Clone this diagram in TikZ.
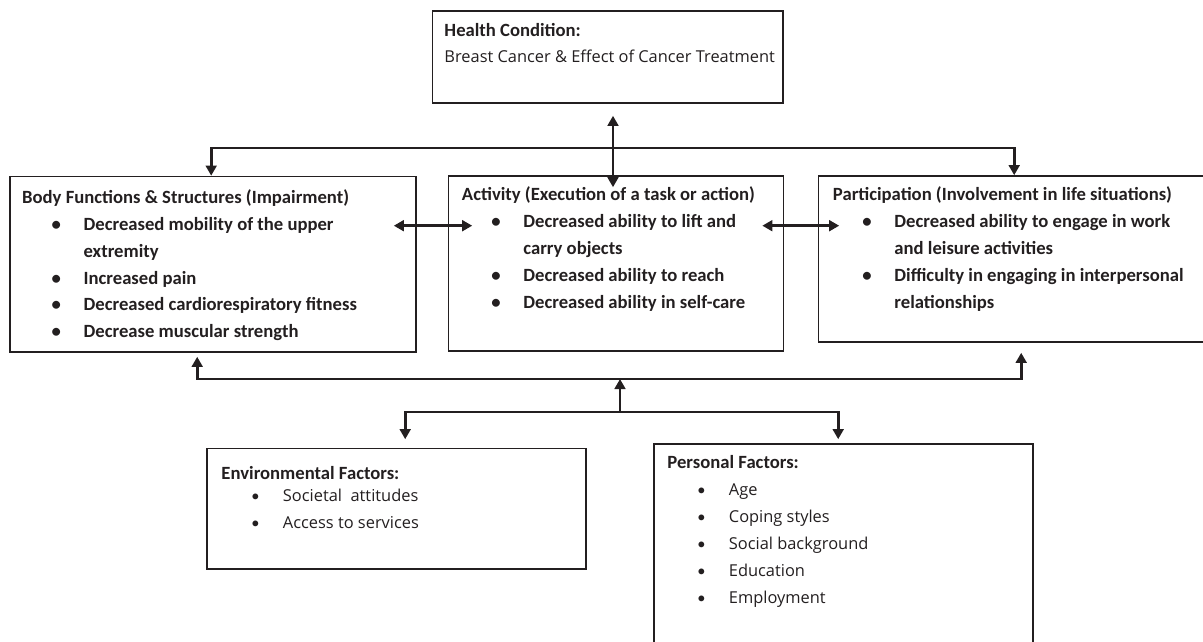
\documentclass[tikz,border=0pt]{standalone}
\usepackage{fontspec}
\setmainfont{Carlito}
\newfontfamily\segoe{Open Sans}
\usetikzlibrary{arrows.meta, calc, fit}
\definecolor{inkgray}{RGB}{35, 31, 32}
\newcommand{\reg}{\segoe\fontsize{12.3}{20.3}\selectfont}
\newcommand{\bitem}[1]{\hspace*{25.5pt}\makebox[0pt]{\rmfamily\textbullet}\hspace*{20.6pt}#1}
\newcommand{\bwrap}[1]{\hspace*{46.1pt}#1}

\begin{document}
\begin{tikzpicture}[x=0.75pt, y=-0.75pt, font=\fontsize{14}{20.2}\selectfont,
  box/.style={draw=inkgray, line width=1.2pt, inner sep=0pt},
  txt/.style={anchor=base west, inner sep=0pt, text=inkgray},
  conn/.style={draw=inkgray, line width=2pt, -{Triangle[length=7.5pt, width=8pt]}},
  dconn/.style={conn, {Triangle[length=7.5pt, width=8pt]}-{Triangle[length=7.5pt, width=8pt]}}]
  \useasboundingbox (0,0) rectangle (1203,642);

  % boxes
  \node[box, fit={(432.5,11) (783,103)}] (health) {};
  \node[box, fit={(10,176.5) (416,352)}] (body) {};
  \node[box, fit={(448.5,176) (783.5,351)}] (activity) {};
  \node[box, fit={(818.5,176) (1206,342)}] (particip) {};
  \node[box, fit={(207,448.5) (586,569)}] (env) {};
  \node[box, fit={(654,444) (1033,648)}] (personal) {};

  % texts
  \node[txt] (health-txt) at ($(health.north west)+(12.5,26.5)$)
    {\begin{tabular}[t]{@{}l@{}}\textbf{Health Condition:}\\[-1pt]
     {\reg Breast Cancer \& Effect of Cancer Treatment}\end{tabular}};
  \node[txt] (body-txt) at ($(body.north west)+(12.7,27.5)$)
    {\bfseries\begin{tabular}[t]{@{}l@{}}Body Functions \& Structures (Impairment)\\
     \bitem{Decreased mobility of the upper}\\
     \bwrap{extremity}\\
     \bitem{Increased pain}\\
     \bitem{Decreased cardiorespiratory fitness}\\
     \bitem{Decrease muscular strength}\end{tabular}};
  \node[txt] (activity-txt) at ($(activity.north west)+(14,25.5)$)
    {\bfseries\begin{tabular}[t]{@{}l@{}}Activity (Execution of a task or action)\\
     \bitem{Decreased ability to lift and}\\
     \bwrap{carry objects}\\
     \bitem{Decreased ability to reach}\\
     \bitem{Decreased ability in self-care}\end{tabular}};
  \node[txt] (particip-txt) at ($(particip.north west)+(15,25.5)$)
    {\bfseries\begin{tabular}[t]{@{}l@{}}Participation (Involvement in life situations)\\
     \bitem{Decreased ability to engage in work}\\
     \bwrap{and leisure activities}\\
     \bitem{Difficulty in engaging in interpersonal}\\
     \bwrap{relationships}\end{tabular}};
  \node[txt] (env-txt) at ($(env.north west)+(15,31.5)$)
    {\begin{tabular}[t]{@{}l@{}}\textbf{Environmental Factors:}\\[-3.8pt]
     \reg\bitem{Societal\ \ attitudes}\\[0.3pt]
     \reg\bitem{Access to services}\end{tabular}};
  \node[txt] (personal-txt) at ($(personal.north west)+(14,25.5)$)
    {\begin{tabular}[t]{@{}l@{}}\textbf{Personal Factors:}\\
     \reg\bitem{Age}\\
     \reg\bitem{Coping styles}\\
     \reg\bitem{Social background}\\
     \reg\bitem{Education}\\
     \reg\bitem{Employment}\end{tabular}};

  % connectors
  \coordinate (top-bus) at (613,148);
  \coordinate (low-bus) at (620,379);
  \coordinate (fac-bus) at (620,412);
  \draw[dconn] ($(health.south)+(5.25,12)$) -- ($(activity.north)+(-3,12)$);
  \draw[conn] (top-bus) -| ($(body.north west)+(202,0)$);
  \draw[conn] (top-bus) -| ($(particip.north west)+(196.5,0)$);
  \draw[dconn] ($(body.north east)+(-23,50)$) -- ($(activity.north west)+(24.5,50.5)$);
  \draw[dconn] ($(activity.north east)+(-22,50.5)$) -- ($(particip.north west)+(21.5,50.5)$);
  \draw[conn] (low-bus) -| ($(body.south west)+(188,4)$);
  \draw[conn] (low-bus) -| ($(particip.south west)+(203.5,10)$);
  \draw[conn] (fac-bus) -- (low-bus);
  \draw[conn] (fac-bus) -| ($(env.north west)+(199,-8.5)$);
  \draw[conn] (fac-bus) -| ($(personal.north west)+(185,-4)$);
\end{tikzpicture}
\end{document}
